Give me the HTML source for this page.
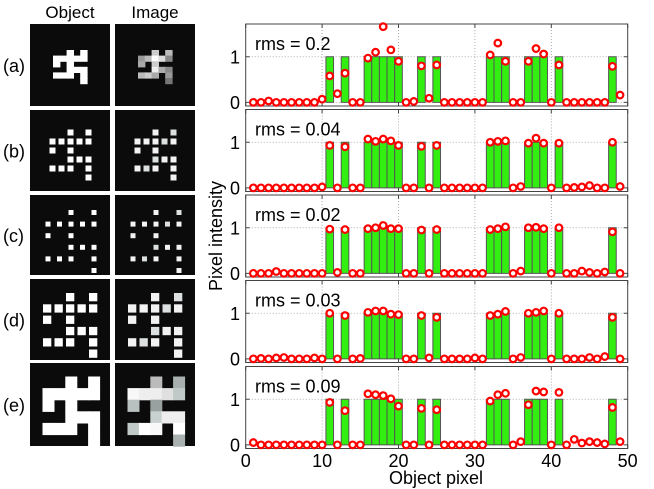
<!DOCTYPE html>
<html><head><meta charset="utf-8"><style>
body{margin:0;background:#fff;width:654px;height:489px;overflow:hidden;font-family:"Liberation Sans",sans-serif}
svg{display:block}
</style></head><body>
<svg id="s" width="654" height="489" xmlns="http://www.w3.org/2000/svg" font-family="Liberation Sans, sans-serif"></svg>
<script>
var s=document.getElementById('s');var h='';
var pat=[[0,3],[0,5],[1,1],[1,2],[1,3],[1,4],[1,5],[2,1],[2,3],[3,3],[3,4],[3,5],[4,1],[4,2],[4,3],[4,5],[5,5]];
var grayA=['#ccc','#bbb','#999','#bbb','#fff','#ddd','#888','#aaa','#ccc','#eee','#aaa','#888','#bbb','#ccc','#aaa','#999','#777'];
var grayE=['#bbb','#a8b0b0','#f8f8f8','#eee','#eee','#e0e0e0','#c0c8c8','#b8c0c0','#99a0a0','#c8d0d0','#eee','#eee','#c0c8c8','#fff','#f8f8f8','#fff','#a8b0b0'];
var panels=[
 {y:24,h:82,ox:23,oy:26,px:6.8,py:5.6,sz:0,lab:'(a)'},
 {y:110,h:81,ox:19.5,oy:19.5,px:9,py:9,sz:6,lab:'(b)'},
 {y:195,h:80,ox:15.5,oy:15,px:11.5,py:11.6,sz:5,lab:'(c)'},
 {y:279,h:81,ox:13,oy:14,px:11.5,py:11.3,sz:8.3,lab:'(d)'},
 {y:363,h:83,ox:12.5,oy:13.5,px:11.4,py:11.6,sz:0,lab:'(e)'}];
h+='<text x="70" y="18" font-size="17" text-anchor="middle">Object</text>';
h+='<text x="155" y="18" font-size="17" text-anchor="middle">Image</text>';
panels.forEach(function(p,i){
 h+='<text x="3" y="'+(p.y+p.h/2+7)+'" font-size="18">'+p.lab+'</text>';
 [30,115].forEach(function(X,k){
  h+='<rect x="'+X+'" y="'+p.y+'" width="80" height="'+p.h+'" fill="#0b0b0b"/>';
  pat.forEach(function(c,j){
   var col=c[1]-1,row=c[0];
   var w=p.sz||p.px,hh=p.sz||p.py;
   var f='#fff';
   if(k==1){f=(i==0)?grayA[j]:(i==4?grayE[j]:(j%4==1?'#dde0e0':'#f2f2f2'));}
   h+='<rect x="'+(X+p.ox+col*p.px)+'" y="'+(p.y+p.oy+row*p.py)+'" width="'+(w+(p.sz?0:0.6))+'" height="'+(hh+(p.sz?0:0.6))+'" fill="'+f+'"/>';
  });
 });
});
var ones=[11,13,16,17,18,19,20,23,25,32,33,34,37,38,39,41,48];
var D=[
 {rms:'0.2',top:24,v:{3:.03,10:.07,11:.58,12:.19,13:.64,16:.97,17:1.1,18:1.66,19:1.15,20:.9,22:.02,23:.8,24:.09,25:.82,32:1.04,33:1.3,34:.9,37:.9,38:1.18,39:1.06,41:.82,48:.79,49:.16}},
 {rms:'0.04',top:109.5,v:{10:.02,11:.93,13:.9,16:1.07,17:1.02,18:1.07,19:1.03,20:.93,23:.91,25:.93,32:1,33:1.02,34:1.03,36:.03,37:.98,38:1.09,39:.98,41:.98,43:.01,44:.02,45:.05,48:1,49:.03}},
 {rms:'0.02',top:195,v:{4:.04,11:.97,12:.02,13:.96,16:.98,17:1,18:1.05,19:.98,20:.98,23:.95,25:.96,32:.96,33:.98,34:1.02,36:.05,37:1,38:1.01,39:.98,41:1,44:.05,45:.02,47:.03,48:.91}},
 {rms:'0.03',top:280.5,v:{2:.01,4:.02,5:.03,9:.02,11:1,13:.95,15:.01,16:1.02,17:1.05,18:1.05,19:.98,20:.97,23:.95,24:.02,25:.91,30:.02,32:.95,33:.98,34:1.04,36:.03,37:1,38:1.02,39:1.05,41:1,45:.03,47:.05,48:.91}},
 {rms:'0.09',top:366.5,v:{1:.05,11:.93,13:.75,16:1.12,17:1.1,18:1.08,19:1.01,20:.85,23:.8,25:.77,32:.96,33:1.1,34:1.13,36:.07,37:.88,38:1.18,39:1.16,41:1.15,43:.12,44:.04,45:.07,46:.05,47:.02,48:.82,49:.07}}];
var L=245.7,R=627.7,ux=(R-L)/50,H=82,uy=45.6;
D.forEach(function(d,i){
 var t=d.top,b=t+H,y0=b-0.08*uy,y1=y0-uy;
 h+='<rect x="'+L+'" y="'+t+'" width="'+(R-L)+'" height="'+H+'" fill="#fff"/>';
 [10,20,30,40].forEach(function(g){var x=L+g*ux;h+='<line x1="'+x+'" y1="'+t+'" x2="'+x+'" y2="'+b+'" stroke="#999" stroke-width="0.8" stroke-dasharray="1,2"/>';});
 [y0,y1].forEach(function(y){h+='<line x1="'+L+'" y1="'+y+'" x2="'+R+'" y2="'+y+'" stroke="#999" stroke-width="0.8" stroke-dasharray="1,2"/>';});
 ones.forEach(function(n){h+='<rect x="'+(L+(n-0.5)*ux)+'" y="'+y1+'" width="'+ux+'" height="'+uy+'" fill="#33ee11" stroke="#555" stroke-width="1"/>';});
 h+='<rect x="'+L+'" y="'+t+'" width="'+(R-L)+'" height="'+H+'" fill="none" stroke="#444" stroke-width="1"/>';
 for(var k=0;k<=5;k++){var x=L+k*10*ux;h+='<line x1="'+x+'" y1="'+b+'" x2="'+x+'" y2="'+(b-4)+'" stroke="#444"/><line x1="'+x+'" y1="'+t+'" x2="'+x+'" y2="'+(t+4)+'" stroke="#444"/>';}
 [y0,y1].forEach(function(y){h+='<line x1="'+L+'" y1="'+y+'" x2="'+(L+4)+'" y2="'+y+'" stroke="#444"/><line x1="'+R+'" y1="'+y+'" x2="'+(R-4)+'" y2="'+y+'" stroke="#444"/>';});
 h+='<text x="240" y="'+(y0+6.5)+'" font-size="18" text-anchor="end">0</text>';
 h+='<text x="240" y="'+(y1+6.5)+'" font-size="18" text-anchor="end">1</text>';
 h+='<text x="255" y="'+(t+26)+'" font-size="18">rms = '+d.rms+'</text>';
 for(var n=1;n<=49;n++){var v=d.v[n]||0;h+='<circle cx="'+(L+n*ux)+'" cy="'+(y0-v*uy)+'" r="3.3" fill="#fff" stroke="#f00" stroke-width="2.2"/>';}
});
for(var k=0;k<=5;k++){h+='<text x="'+(L+k*10*ux)+'" y="467" font-size="18" text-anchor="middle">'+(k*10)+'</text>';}
h+='<text x="436" y="484" font-size="18" text-anchor="middle">Object pixel</text>';
h+='<text transform="translate(222,236) rotate(-90)" font-size="18" text-anchor="middle">Pixel intensity</text>';
s.innerHTML=h;
</script>
</body></html>
